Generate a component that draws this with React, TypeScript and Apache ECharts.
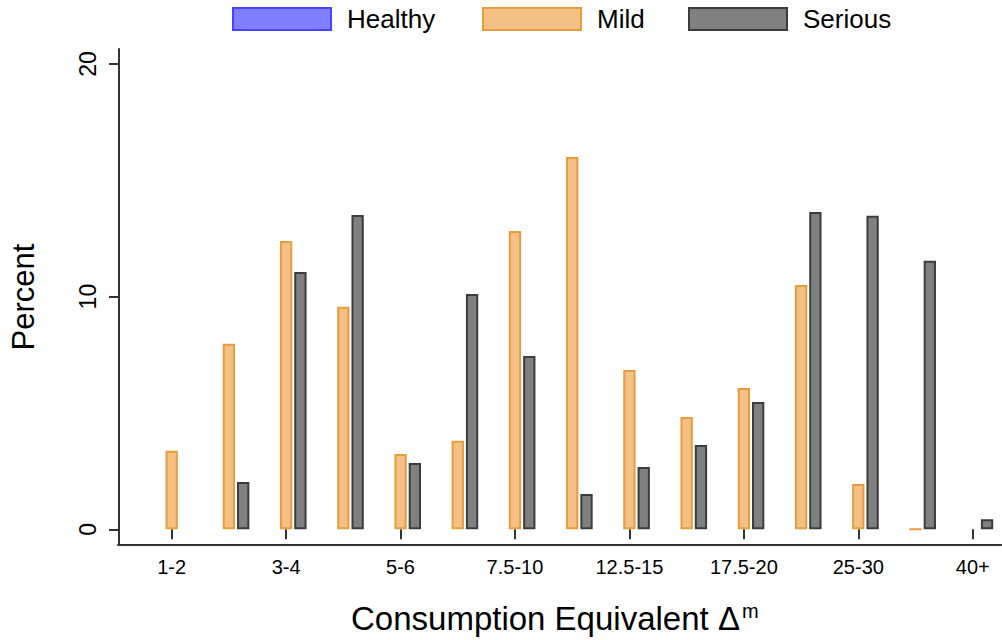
import React, { useEffect, useRef } from "react";
import * as echarts from "echarts";

const categories = ["1-2", "2-3", "3-4", "4-5", "5-6", "6-7.5", "7.5-10", "10-12.5", "12.5-15", "15-17.5", "17.5-20", "20-25", "25-30", "30-40", "40+"];
const healthy = [null, null, null, null, null, null, null, null, null, null, null, null, null, null, null];
const mild = [3.37, 7.97, 12.39, 9.56, 3.24, 3.8, 12.82, 16.0, 6.85, 4.83, 6.07, 10.5, 1.95, 0, null];
const serious = [null, 2.03, 11.06, 13.51, 2.85, 10.11, 7.45, 1.52, 2.68, 3.62, 5.47, 13.64, 13.47, 11.54, 0.43];
const yTicks = [0, 10, 20];

const FONT = "'Liberation Sans', Arial, Helvetica, sans-serif";
const AXIS = "#333333";
const colors = {
  Healthy: { fill: "#8080ff", border: "#4444ff" },
  Mild: { fill: "#f3c086", border: "#e89c3c" },
  Serious: { fill: "#808080", border: "#3c3c3c" },
};

export default function App() {
  const ref = useRef<HTMLDivElement>(null);
  useEffect(() => {
    if (!ref.current) return;
    const chart = echarts.init(ref.current, null, { renderer: "svg" });
    const legendLefts: Record<string, number> = { Healthy: 232, Mild: 482, Serious: 688 };
    const names = ["Healthy", "Mild", "Serious"];
    const dataMap: Record<string, (number | null)[]> = { Healthy: healthy, Mild: mild, Serious: serious };
    const option: any = {
      animation: false,
      textStyle: { fontFamily: FONT, color: "#000" },
      title: {
        text: "Consumption Equivalent Δ{sup|m}",
        left: 351,
        top: 601,
        padding: 0,
        textStyle: {
          fontFamily: FONT,
          fontSize: 33,
          fontWeight: "normal",
          color: "#000",
          rich: {
            sup: { fontFamily: FONT, fontSize: 20, color: "#000", padding: [0, 0, 14, 2] },
          },
        },
      },
      legend: names.map((n) => ({
        data: [n],
        left: legendLefts[n],
        top: 6,
        padding: 0,
        icon: "rect",
        itemWidth: 98,
        itemHeight: 22,
        selectedMode: false,
        itemStyle: { color: colors[n as keyof typeof colors].fill, borderColor: colors[n as keyof typeof colors].border, borderWidth: 2 },
        textStyle: { fontFamily: FONT, fontSize: 26, color: "#000", padding: [0, 0, 0, 11] },
      })),
      grid: [
        { left: 142.05, width: 859.3, top: 49, height: 496, containLabel: false },
        { left: 118, width: 883.35, top: 49, height: 496, containLabel: false },
      ],
      xAxis: [
        {
          type: "category",
          gridIndex: 0,
          data: categories,
          boundaryGap: true,
          axisLine: { show: false },
          axisTick: { show: true, alignWithLabel: true, interval: 1, length: 10, lineStyle: { color: AXIS, width: 2 } },
          axisLabel: { interval: 1, fontSize: 20, color: "#000", margin: 12, fontFamily: FONT },
          splitLine: { show: false },
        },
        {
          type: "value",
          gridIndex: 1,
          min: 0,
          max: 1,
          axisLine: { show: true, lineStyle: { color: AXIS, width: 2 } },
          axisTick: { show: false },
          axisLabel: { show: false },
          splitLine: { show: false },
        },
      ],
      yAxis: [
        {
          type: "value",
          gridIndex: 0,
          min: -0.675,
          max: 20.64,
          offset: 24.05,
          name: "Percent",
          nameLocation: "middle",
          nameGap: 80,
          nameRotate: 90,
          nameTextStyle: { fontFamily: FONT, fontSize: 31, color: "#000" },
          axisLine: { show: true, lineStyle: { color: AXIS, width: 2 } },
          axisTick: { show: true, length: 10, customValues: yTicks, lineStyle: { color: AXIS, width: 2 } },
          axisLabel: { show: true, customValues: yTicks, rotate: 90, fontSize: 23, color: "#000", margin: 20, fontFamily: FONT },
          splitLine: { show: false },
        },
        {
          type: "value",
          gridIndex: 1,
          min: 0,
          max: 1,
          show: false,
        },
      ],
      series: names.map((n) => ({
        name: n,
        type: "bar",
        xAxisIndex: 0,
        yAxisIndex: 0,
        data: dataMap[n],
        barWidth: 12.3,
        barGap: "16.3%",
        itemStyle: { color: colors[n as keyof typeof colors].fill, borderColor: colors[n as keyof typeof colors].border, borderWidth: 2 },
        emphasis: { disabled: true },
      })),
    };
    chart.setOption(option);
    return () => chart.dispose();
  }, []);
  return <div ref={ref} style={{ position: "fixed", left: 0, top: 0, width: 1002, height: 640, background: "#fff" }} />;
}
